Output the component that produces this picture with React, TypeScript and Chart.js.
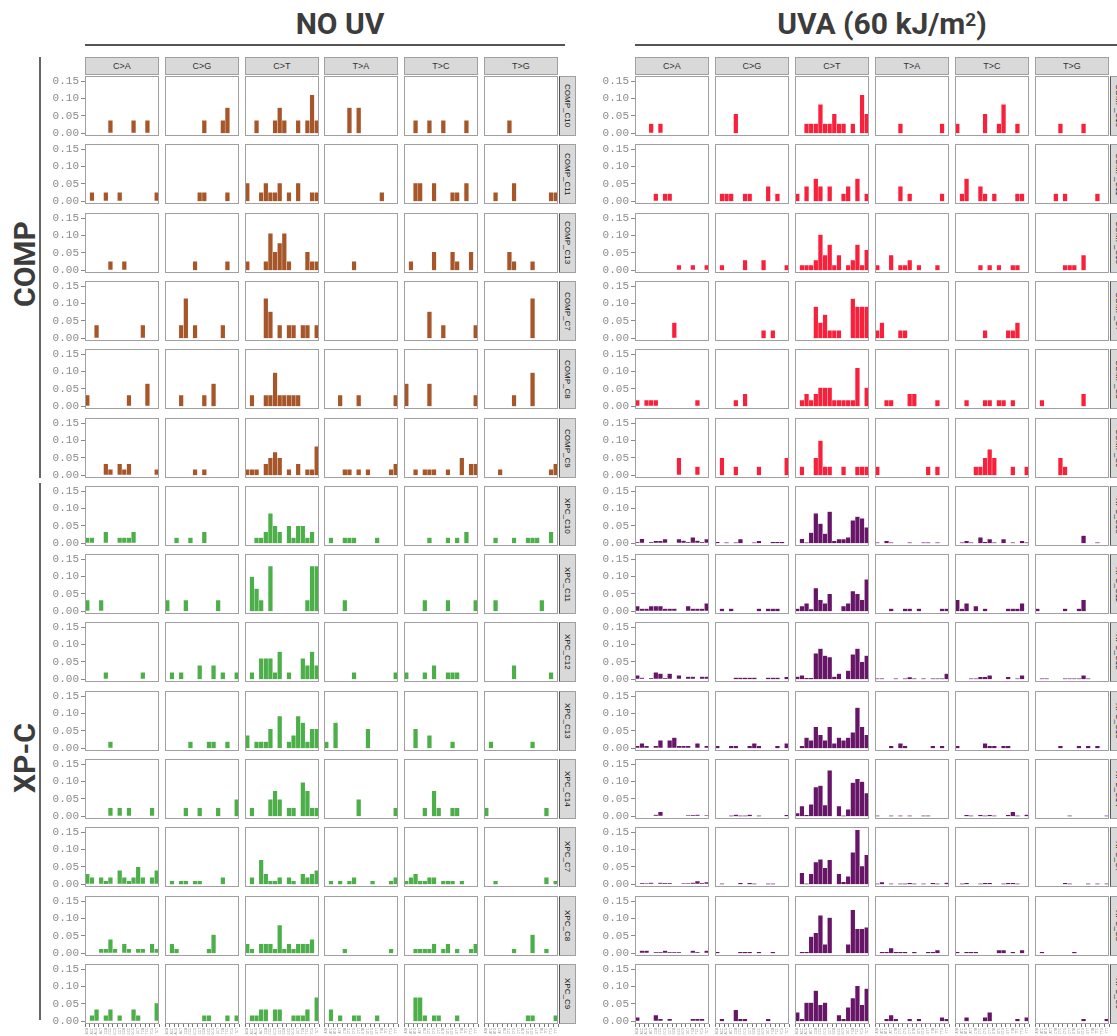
import React, { useEffect, useRef } from "react";
import { Chart, registerables } from "chart.js";

Chart.register(...registerables);

// ---- labels ----
const substitutions = ["C>A", "C>G", "C>T", "T>A", "T>C", "T>G"];
const cContexts = ["ACA", "ACC", "ACG", "ACT", "CCA", "CCC", "CCG", "CCT", "GCA", "GCC", "GCG", "GCT", "TCA", "TCC", "TCG", "TCT"];
const tContexts = ["ATA", "ATC", "ATG", "ATT", "CTA", "CTC", "CTG", "CTT", "GTA", "GTC", "GTG", "GTT", "TTA", "TTC", "TTG", "TTT"];
const yTicks = [0, 0.05, 0.1, 0.15];
const sampleNames = ["COMP_C10", "COMP_C11", "COMP_C13", "COMP_C7", "COMP_C8", "COMP_C9", "XPC_C10", "XPC_C11", "XPC_C12", "XPC_C13", "XPC_C14", "XPC_C7", "XPC_C8", "XPC_C9"];

// ---- NO UV: mutation fractions per substitution (16 trinucleotide contexts each) ----
const noUV_COMP_C10 = [
  [0, 0, 0, 0, 0, .037, 0, 0, 0, 0, .037, 0, 0, .037, 0, 0],
  [0, 0, 0, 0, 0, 0, 0, 0, .037, 0, 0, 0, .037, .074, 0, 0],
  [0, 0, .037, 0, 0, 0, .037, .074, .037, 0, 0, .037, 0, .037, .111, .037],
  [0, 0, 0, 0, 0, .074, 0, .074, 0, 0, 0, 0, 0, 0, 0, 0],
  [0, 0, .037, 0, 0, .037, 0, 0, .037, 0, 0, 0, 0, .037, 0, 0],
  [0, 0, 0, 0, 0, .037, 0, 0, 0, 0, 0, 0, 0, 0, 0, 0],
];
const noUV_COMP_C11 = [
  [0, .026, 0, 0, .026, 0, 0, .026, 0, 0, 0, 0, 0, 0, 0, .026],
  [0, 0, 0, 0, 0, 0, 0, .026, .026, 0, 0, 0, 0, .026, 0, 0],
  [.052, 0, 0, .026, .052, .026, .026, .052, 0, .026, 0, .052, 0, 0, .026, .026],
  [0, 0, 0, 0, 0, 0, 0, 0, 0, 0, 0, 0, .026, 0, 0, 0],
  [0, 0, .052, .052, 0, 0, .052, 0, 0, 0, .026, .026, 0, .052, 0, 0],
  [0, 0, .026, 0, 0, 0, .052, 0, 0, 0, 0, 0, 0, 0, .026, .026],
];
const noUV_COMP_C13 = [
  [0, 0, 0, 0, 0, .026, 0, 0, .026, 0, 0, 0, 0, 0, 0, 0],
  [0, 0, 0, 0, 0, 0, .026, 0, 0, 0, 0, 0, 0, .026, 0, 0],
  [.026, 0, 0, 0, .026, .106, .053, .078, .106, .026, 0, 0, 0, .053, .026, .026],
  [0, 0, 0, 0, 0, 0, .026, 0, 0, 0, 0, 0, 0, 0, 0, 0],
  [0, .026, 0, 0, 0, 0, .053, 0, 0, 0, .053, .026, 0, 0, .053, 0],
  [0, 0, 0, 0, 0, .053, .026, 0, 0, 0, .026, 0, 0, 0, 0, 0],
];
const noUV_COMP_C7 = [
  [0, 0, .038, 0, 0, 0, 0, 0, 0, 0, 0, 0, .038, 0, 0, 0],
  [0, 0, 0, .038, .115, 0, .038, 0, 0, 0, 0, 0, .038, 0, 0, 0],
  [0, 0, 0, 0, .115, .077, 0, .038, 0, .038, .038, 0, .038, .038, 0, .038],
  [0, 0, 0, 0, 0, 0, 0, 0, 0, 0, 0, 0, 0, 0, 0, 0],
  [0, 0, 0, 0, 0, .077, 0, 0, .038, 0, 0, 0, 0, 0, 0, .038],
  [0, 0, 0, 0, 0, 0, 0, 0, 0, 0, .115, 0, 0, 0, 0, 0],
];
const noUV_COMP_C8 = [
  [.032, 0, 0, 0, 0, 0, 0, 0, 0, .032, 0, 0, 0, .065, 0, 0],
  [0, 0, 0, .032, 0, 0, 0, 0, .032, 0, .065, 0, 0, 0, 0, 0],
  [0, .032, 0, 0, .032, .032, .097, .032, .032, .032, .032, .032, 0, 0, 0, 0],
  [0, 0, 0, .032, 0, 0, 0, .032, 0, 0, 0, 0, 0, 0, 0, .032],
  [.065, 0, 0, 0, 0, .065, 0, 0, 0, 0, 0, 0, 0, 0, 0, .032],
  [0, 0, 0, 0, 0, 0, .032, 0, 0, 0, .097, 0, 0, 0, 0, 0],
];
const noUV_COMP_C9 = [
  [0, 0, 0, 0, .033, .017, 0, .033, .017, .033, 0, 0, 0, 0, 0, .017],
  [0, 0, 0, 0, 0, 0, .017, 0, .017, 0, 0, 0, 0, 0, 0, 0],
  [.017, .017, .017, 0, .033, .05, .067, .05, 0, .017, 0, .033, 0, .017, .017, .083],
  [0, 0, 0, 0, .017, .017, 0, .017, 0, .017, 0, 0, 0, 0, .017, .033],
  [0, 0, .017, 0, .017, .017, .017, 0, 0, .017, 0, 0, .05, 0, .033, .033],
  [0, 0, 0, .017, 0, 0, 0, 0, 0, 0, 0, 0, 0, 0, .017, .033],
];
const noUV_XPC_C10 = [
  [.016, .016, 0, 0, .033, 0, 0, .016, .016, .016, .033, 0, 0, 0, 0, 0],
  [0, 0, .016, 0, 0, .016, 0, 0, .033, 0, 0, 0, 0, 0, 0, 0],
  [0, 0, .016, .016, .033, .086, .05, .033, 0, .05, .016, .05, .05, .016, .033, 0],
  [0, .016, 0, 0, .016, .016, .016, 0, 0, 0, 0, .016, 0, 0, 0, 0],
  [0, 0, 0, 0, 0, .016, 0, 0, 0, .016, 0, .016, 0, .033, 0, 0],
  [0, 0, .016, 0, 0, 0, .016, 0, 0, .016, .016, .016, 0, 0, .033, 0],
];
const noUV_XPC_C11 = [
  [.032, 0, 0, .032, 0, 0, 0, 0, 0, 0, 0, 0, 0, 0, 0, 0],
  [.032, 0, 0, 0, .032, 0, 0, 0, 0, 0, 0, .032, 0, 0, 0, 0],
  [0, .1, .065, .032, 0, .13, 0, 0, 0, 0, 0, 0, 0, .032, .13, .13],
  [0, 0, 0, 0, .032, 0, 0, 0, 0, 0, 0, 0, 0, 0, 0, 0],
  [0, 0, 0, 0, .032, 0, 0, 0, 0, .032, 0, 0, 0, 0, 0, .032],
  [0, 0, .032, 0, 0, 0, 0, 0, 0, 0, 0, 0, .032, 0, 0, 0],
];
const noUV_XPC_C12 = [
  [0, 0, 0, 0, .02, 0, 0, 0, 0, 0, 0, 0, .02, 0, 0, 0],
  [0, .02, 0, .02, 0, 0, 0, .04, 0, 0, .04, 0, .02, 0, 0, .02],
  [0, .02, 0, .06, .06, .06, .02, .08, 0, .02, 0, 0, .06, .04, .08, .04],
  [0, 0, 0, 0, 0, 0, .02, 0, 0, 0, 0, 0, 0, 0, 0, .02],
  [.02, 0, 0, 0, .02, 0, .04, 0, 0, .02, .02, .02, 0, 0, 0, 0],
  [0, 0, 0, 0, 0, 0, .04, 0, 0, 0, 0, 0, 0, 0, .02, 0],
];
const noUV_XPC_C13 = [
  [0, 0, 0, 0, 0, .019, 0, 0, 0, 0, 0, 0, 0, 0, 0, 0],
  [0, 0, 0, 0, 0, .019, 0, 0, 0, .019, .019, 0, 0, .019, 0, 0],
  [.037, 0, .019, .019, .019, .056, 0, .093, 0, .019, .037, .093, .074, .019, .056, .056],
  [.019, 0, .074, 0, 0, 0, 0, 0, 0, .056, 0, 0, 0, 0, 0, 0],
  [0, 0, .056, 0, 0, .037, 0, 0, 0, 0, .019, 0, 0, 0, 0, 0],
  [0, .019, 0, 0, 0, 0, 0, 0, 0, 0, .019, 0, 0, 0, 0, 0],
];
const noUV_XPC_C14 = [
  [0, 0, 0, 0, 0, .024, 0, .024, 0, .024, 0, 0, 0, 0, .024, 0],
  [0, 0, 0, 0, .024, 0, 0, .024, 0, 0, 0, .024, 0, 0, 0, .049],
  [0, .024, 0, 0, 0, .049, .073, .049, 0, .024, .024, 0, .098, .073, .024, .024],
  [0, 0, 0, 0, 0, 0, 0, .049, 0, 0, 0, 0, 0, 0, 0, .024],
  [0, 0, 0, 0, .024, 0, .073, .024, 0, 0, .024, .024, 0, 0, 0, 0],
  [.024, 0, 0, 0, 0, 0, 0, 0, 0, 0, 0, 0, 0, .024, 0, 0],
];
const noUV_XPC_C7 = [
  [.03, .02, 0, .02, .01, .02, 0, .04, .02, .01, .02, .05, .02, 0, .02, .04],
  [0, .01, 0, .01, .01, 0, .01, .01, 0, 0, 0, 0, .02, 0, 0, 0],
  [0, .02, 0, .07, .03, .01, .01, .02, 0, .02, .01, 0, .03, .02, .03, .04],
  [0, .01, 0, .01, 0, .01, .02, 0, 0, 0, .01, 0, 0, 0, .01, .02],
  [.01, .02, .03, .01, .01, .02, .02, 0, .01, .01, .01, 0, .01, 0, 0, 0],
  [0, 0, .01, 0, 0, 0, 0, 0, 0, 0, 0, 0, 0, .02, 0, .01],
];
const noUV_XPC_C8 = [
  [0, 0, 0, .013, .013, .04, .013, 0, .027, .013, 0, .013, .013, 0, .027, .013],
  [0, .027, .013, 0, 0, 0, 0, 0, 0, .013, .054, 0, 0, 0, 0, 0],
  [.027, .013, 0, .027, .027, .027, .013, .081, .013, .027, .013, .027, .027, .027, .04, 0],
  [0, 0, 0, 0, .013, 0, 0, 0, 0, 0, 0, 0, 0, 0, .013, 0],
  [0, 0, .013, .013, .013, .013, .027, 0, .013, .027, 0, .013, 0, 0, .013, .027],
  [0, 0, 0, 0, 0, 0, .013, 0, 0, 0, .054, 0, 0, .013, 0, 0],
];
const noUV_XPC_C9 = [
  [0, .017, .034, 0, .017, .034, 0, .017, 0, 0, .034, .017, 0, 0, 0, .052],
  [0, 0, 0, 0, 0, 0, 0, 0, .017, .017, 0, 0, 0, .017, 0, .017],
  [0, .017, .017, .034, .034, 0, .034, .034, 0, 0, .017, .017, .017, .034, 0, .069],
  [0, .034, 0, .017, 0, 0, .017, .017, 0, 0, 0, .017, 0, 0, 0, 0],
  [0, 0, .069, .069, .017, 0, .017, .017, 0, 0, 0, .017, 0, 0, 0, 0],
  [0, 0, 0, 0, 0, 0, 0, 0, 0, .017, .017, 0, 0, 0, 0, .017],
];

// ---- UVA (60 kJ/m2) ----
const uva_COMP_C10 = [
  [0, 0, 0, .028, 0, .028, 0, 0, 0, 0, 0, 0, 0, 0, 0, 0],
  [0, 0, 0, 0, .056, 0, 0, 0, 0, 0, 0, 0, 0, 0, 0, 0],
  [0, 0, .028, .028, .028, .083, .028, .028, .056, .028, .028, 0, .028, 0, .111, .056],
  [0, 0, 0, 0, 0, .028, 0, 0, 0, 0, 0, 0, 0, 0, .028, 0],
  [.028, 0, 0, 0, 0, 0, .056, 0, 0, .028, .083, 0, 0, .028, 0, 0],
  [0, 0, 0, 0, 0, .028, 0, 0, 0, 0, .028, 0, 0, 0, 0, 0],
];
const uva_COMP_C11 = [
  [0, 0, 0, 0, .022, 0, .022, .022, 0, 0, 0, 0, 0, 0, 0, 0],
  [0, .022, .022, .022, 0, 0, .022, .022, 0, 0, 0, .043, 0, .022, 0, 0],
  [.022, 0, .043, 0, .065, .043, 0, .043, 0, 0, .022, .043, 0, .065, 0, .022],
  [0, 0, 0, 0, 0, .043, 0, .022, 0, 0, 0, 0, 0, 0, .022, 0],
  [0, .022, .065, 0, 0, .043, .022, 0, .022, 0, 0, 0, 0, .022, .022, 0],
  [0, 0, 0, 0, .022, 0, .022, 0, 0, 0, 0, 0, 0, .022, 0, 0],
];
const uva_COMP_C13 = [
  [0, 0, 0, 0, 0, 0, 0, 0, 0, .015, 0, 0, .015, 0, 0, .015],
  [0, .015, 0, 0, 0, 0, .029, 0, 0, 0, .029, 0, 0, 0, 0, .015],
  [0, .015, .015, .015, .029, .103, .044, .074, .015, .044, 0, .015, .029, .074, .015, .059],
  [.015, 0, 0, .044, 0, .015, .015, .029, 0, .015, 0, 0, 0, .015, 0, 0],
  [0, 0, 0, 0, 0, .015, 0, .015, 0, .015, 0, 0, .015, .015, 0, 0],
  [0, 0, 0, 0, 0, 0, .015, .015, .015, 0, .044, 0, 0, 0, 0, 0],
];
const uva_COMP_C7 = [
  [0, 0, 0, 0, 0, 0, 0, 0, .045, 0, 0, 0, 0, 0, 0, 0],
  [0, 0, 0, 0, 0, 0, 0, 0, 0, 0, .023, 0, .023, 0, 0, 0],
  [0, 0, 0, 0, .091, .045, .068, .023, .023, .023, 0, 0, .114, .091, .091, .091],
  [.023, .045, 0, 0, 0, .023, .023, 0, 0, 0, 0, 0, 0, 0, 0, 0],
  [0, 0, 0, 0, 0, 0, .023, 0, 0, 0, 0, .023, .023, .045, 0, 0],
  [0, 0, 0, 0, 0, 0, 0, 0, 0, 0, 0, 0, 0, 0, 0, 0],
];
const uva_COMP_C8 = [
  [.018, 0, .018, .018, .018, 0, 0, 0, 0, 0, 0, 0, 0, .018, 0, 0],
  [0, 0, 0, 0, .018, 0, .036, 0, 0, 0, 0, 0, 0, 0, 0, 0],
  [0, .018, .036, .018, .036, .054, .054, .054, .018, .018, .018, .018, .018, .111, 0, .054],
  [0, 0, .018, .018, 0, 0, 0, .036, .036, 0, 0, 0, 0, .018, 0, 0],
  [0, 0, .018, 0, 0, 0, .018, .018, 0, .018, .018, 0, .018, 0, 0, 0],
  [0, .018, 0, 0, 0, 0, 0, 0, 0, 0, .036, 0, 0, 0, 0, 0],
];
const uva_COMP_C9 = [
  [0, 0, 0, 0, 0, 0, 0, 0, 0, .05, 0, 0, 0, .025, 0, 0],
  [0, .05, 0, 0, .025, 0, 0, 0, 0, .025, 0, 0, 0, 0, 0, .05],
  [0, .025, 0, 0, .05, .1, .025, .025, 0, 0, .025, 0, 0, .025, .025, .025],
  [.025, 0, 0, 0, 0, 0, 0, 0, 0, 0, 0, .025, 0, .025, 0, 0],
  [0, 0, 0, 0, .025, .025, .05, .075, .05, 0, 0, 0, .025, 0, 0, .025],
  [0, 0, 0, 0, 0, .05, .025, 0, 0, 0, 0, 0, 0, 0, 0, 0],
];
const uva_XPC_C10 = [
  [.004, .013, 0, .003, .007, .007, .012, 0, 0, .012, .008, .003, .017, .008, .003, .012],
  [.004, 0, .003, 0, .003, .012, 0, 0, .003, .007, 0, 0, .004, .004, .004, 0],
  [0, .013, .003, .031, .086, .057, .028, .091, .007, .012, .012, .017, .066, .077, .072, .046],
  [.003, 0, .007, .003, 0, 0, 0, .003, 0, 0, .003, .003, 0, .003, 0, 0],
  [0, .003, .007, .003, 0, .017, .004, .012, .003, 0, .012, 0, .003, 0, .007, .003],
  [0, 0, 0, 0, 0, 0, 0, 0, 0, 0, .022, 0, 0, .003, 0, 0],
];
const uva_XPC_C11 = [
  [.015, .008, .008, .015, .015, .015, .008, .008, .008, 0, 0, .015, .008, .008, .008, .023],
  [0, .008, 0, .008, 0, 0, 0, 0, 0, .008, 0, .008, .008, .008, 0, 0],
  [.008, .015, .023, .006, .067, .033, .023, .05, 0, 0, .015, .023, .058, .05, .033, .092],
  [0, 0, 0, .008, 0, 0, .008, .008, 0, .008, 0, 0, 0, 0, .008, .008],
  [.033, .008, .023, 0, .015, 0, .008, 0, 0, 0, 0, .008, .008, .008, .023, 0],
  [.008, 0, 0, 0, 0, 0, .008, 0, 0, .008, .033, 0, 0, 0, 0, 0],
];
const uva_XPC_C12 = [
  [.011, .005, 0, .003, .02, .016, .004, .016, 0, .011, 0, .008, .008, 0, .008, .008],
  [0, 0, 0, 0, .005, .005, .005, .005, .005, 0, 0, .005, .005, .005, 0, .007],
  [.008, .011, .004, .004, .075, .088, .068, .064, .008, .016, 0, .025, .072, .088, .05, .068],
  [.003, .003, 0, 0, .003, 0, .003, .006, .003, 0, .003, 0, .003, .003, .003, .016],
  [0, 0, 0, .003, .003, .007, .007, .011, 0, 0, 0, .007, 0, .003, .011, 0],
  [0, .003, .003, 0, 0, 0, .003, .003, .003, .003, .011, .003, 0, 0, 0, 0],
];
const uva_XPC_C13 = [
  [.007, .014, .007, 0, .007, .023, 0, .023, .031, .007, .007, .007, 0, .014, 0, .007],
  [.007, 0, 0, .007, .007, 0, 0, .007, .014, .007, 0, 0, 0, .007, 0, .014],
  [0, .007, .031, .023, .062, .039, .023, .062, .014, .031, .023, .031, .046, .117, .062, .039],
  [0, 0, 0, .007, 0, .014, .007, 0, 0, 0, 0, 0, .007, 0, .007, 0],
  [.007, 0, 0, 0, 0, 0, .014, .007, .007, 0, .007, .007, 0, 0, 0, 0],
  [0, 0, 0, 0, 0, .007, 0, 0, 0, .007, 0, .007, 0, .007, 0, 0],
];
const uva_XPC_C14 = [
  [0, 0, 0, 0, .005, .013, 0, 0, 0, 0, 0, .002, .004, .005, 0, .002],
  [0, 0, 0, .002, .005, .002, .002, .005, 0, .002, 0, 0, 0, 0, 0, .004],
  [.009, .029, .004, .034, .084, .088, .032, .132, 0, .029, .002, .02, .097, .108, .1, .067],
  [.002, 0, 0, .002, 0, .002, 0, .002, 0, 0, .002, .002, 0, 0, 0, 0],
  [0, 0, .004, .002, 0, .004, .002, .004, .002, 0, 0, .004, .013, .002, 0, .005],
  [0, 0, 0, 0, 0, 0, 0, .002, 0, 0, 0, 0, 0, 0, 0, .002],
];
const uva_XPC_C7 = [
  [0, .004, .002, .005, 0, .005, .004, .004, 0, 0, .002, .002, .005, .009, .004, .006],
  [0, .002, 0, 0, 0, .004, 0, .004, .002, 0, 0, .002, .002, 0, 0, 0],
  [0, .033, .002, .03, .064, .072, .047, .07, 0, .03, .007, .023, .092, .157, .052, .085],
  [.002, .006, 0, .002, 0, .002, .002, .004, .002, 0, .002, 0, .004, .002, 0, .005],
  [0, .002, .004, 0, 0, .002, .004, .004, 0, 0, .002, .004, .004, .002, 0, 0],
  [0, 0, 0, 0, 0, 0, .004, .002, 0, 0, 0, .002, 0, .002, 0, .002],
];
const uva_XPC_C8 = [
  [0, .008, .008, 0, .004, .004, .008, .004, .004, .004, 0, 0, .008, .004, 0, .008],
  [.004, 0, 0, 0, 0, .004, .004, .004, 0, .004, 0, 0, .004, 0, 0, 0],
  [0, .004, .004, .048, .059, .109, .026, .103, 0, 0, 0, .026, .125, .07, .07, .075],
  [0, .004, .004, .015, .004, .004, .004, 0, .004, 0, 0, .004, .004, .009, 0, 0],
  [.004, 0, .004, .004, .004, 0, 0, 0, 0, .009, .009, 0, .004, 0, .009, 0],
  [0, .004, 0, 0, 0, 0, 0, 0, .004, 0, 0, 0, 0, 0, 0, 0],
];
const uva_XPC_C9 = [
  [.011, 0, 0, 0, .018, .007, 0, .007, 0, 0, 0, 0, .007, .007, .007, 0],
  [0, .007, 0, 0, .033, .007, .007, 0, 0, 0, 0, .007, 0, 0, 0, 0],
  [.026, .007, .054, .054, .088, .047, .054, 0, 0, .018, .007, .04, .067, .102, .047, .094],
  [0, 0, .007, .018, .007, 0, 0, .007, 0, .007, 0, 0, 0, 0, .011, .007],
  [0, 0, .011, 0, 0, 0, .011, .026, 0, 0, 0, 0, 0, .007, 0, .011],
  [0, 0, 0, 0, 0, 0, 0, 0, 0, 0, .007, 0, 0, 0, 0, .007],
];

const noUVRows = [noUV_COMP_C10, noUV_COMP_C11, noUV_COMP_C13, noUV_COMP_C7, noUV_COMP_C8, noUV_COMP_C9, noUV_XPC_C10, noUV_XPC_C11, noUV_XPC_C12, noUV_XPC_C13, noUV_XPC_C14, noUV_XPC_C7, noUV_XPC_C8, noUV_XPC_C9];
const uvaRows = [uva_COMP_C10, uva_COMP_C11, uva_COMP_C13, uva_COMP_C7, uva_COMP_C8, uva_COMP_C9, uva_XPC_C10, uva_XPC_C11, uva_XPC_C12, uva_XPC_C13, uva_XPC_C14, uva_XPC_C7, uva_XPC_C8, uva_XPC_C9];

// ---- layout ----
const FACET_W = 74;
const FACET_H = 60;
const Y_AXIS_W = 45;
const X_AXIS_H = 13;
const PAD = 10; // canvas margin around each panel so axis label padding never eats into the plot area
const ROW_TOP0 = 76;
const ROW_STEP = 68.3;
const Y_MIN = -0.0079;
const Y_MAX = 0.1649;

const COLORS = {
  noUVComp: "#A65628",
  noUVXpc: "#4DAF4A",
  uvaComp: "#F8213C",
  uvaXpc: "#661567",
};

const panelFrame = {
  id: "panelFrame",
  afterDatasetsDraw(chart: any) {
    const { ctx, chartArea: a } = chart;
    ctx.save();
    ctx.strokeStyle = "#a0a0a0";
    ctx.lineWidth = 1;
    ctx.strokeRect(Math.round(a.left) + 0.5, Math.round(a.top) + 0.5, Math.round(a.right - a.left) - 1, Math.round(a.bottom - a.top) - 1);
    ctx.restore();
  },
};

type FacetProps = {
  values: number[];
  color: string;
  left: number;
  top: number;
  showY: boolean;
  showX: boolean;
  labels: string[];
};

function Facet({ values, color, left, top, showY, showX, labels }: FacetProps) {
  const ref = useRef<HTMLCanvasElement>(null);
  const padL = showY ? Y_AXIS_W : PAD;
  const padB = showX ? X_AXIS_H : PAD;
  const w = padL + FACET_W + PAD;
  const h = PAD + FACET_H + padB;

  useEffect(() => {
    if (!ref.current) return;
    const xScale: any = {
      display: showX,
      offset: true,
      grid: { drawOnChartArea: false, drawTicks: true, tickLength: 3, color: "#555", lineWidth: 0.8 },
      border: { display: false },
      ticks: {
        autoSkip: false,
        maxRotation: 90,
        minRotation: 90,
        padding: 1,
        color: "#9a9a9a",
        font: { size: 3, family: "Liberation Sans", lineHeight: 0.8 },
      },
    };
    if (showX) xScale.afterFit = (s: any) => { s.height = X_AXIS_H; };
    const yScale: any = {
      display: showY,
      min: Y_MIN,
      max: Y_MAX,
      afterBuildTicks: (s: any) => {
        s.ticks = yTicks.map((v) => ({ value: v }));
      },
      grid: { drawOnChartArea: false, drawTicks: true, tickLength: 4, color: "#8a8a8a", lineWidth: 1 },
      border: { display: false },
      ticks: {
        padding: 2,
        color: "#8c8c8c",
        font: { size: 11, family: "Liberation Mono" },
        callback: (v: any) => Number(v).toFixed(2),
      },
    };
    if (showY) yScale.afterFit = (s: any) => { s.width = Y_AXIS_W; };

    const chart = new Chart(ref.current, {
      type: "bar",
      data: {
        labels,
        datasets: [
          {
            data: values,
            backgroundColor: color,
            borderColor: "rgba(255,255,255,0.4)",
            borderWidth: 0.5,
            borderSkipped: "start",
            barPercentage: 1,
            categoryPercentage: 1,
          },
        ],
      },
      options: {
        animation: false,
        responsive: false,
        devicePixelRatio: 1,
        events: [],
        layout: { padding: { top: PAD, right: PAD, bottom: showX ? 0 : PAD, left: showY ? 0 : PAD } },
        plugins: { legend: { display: false }, tooltip: { enabled: false } },
        scales: { x: xScale, y: yScale },
      },
      plugins: [panelFrame],
    });
    return () => chart.destroy();
  }, [values, color, showY, showX, labels]);

  return (
    <canvas
      ref={ref}
      width={w}
      height={h}
      style={{ position: "absolute", left: left - padL, top: top - PAD, width: w, height: h }}
    />
  );
}

type PanelProps = {
  rows: number[][][];
  facetLefts: number[];
  compColor: string;
  xpcColor: string;
};

function Panel({ rows, facetLefts, compColor, xpcColor }: PanelProps) {
  const lastRight = facetLefts[facetLefts.length - 1] + FACET_W;
  const items: React.ReactNode[] = [];

  substitutions.forEach((sub, c) => {
    items.push(
      <div
        key={"strip-" + sub}
        style={{
          position: "absolute",
          left: facetLefts[c],
          top: 57,
          width: FACET_W,
          height: 18,
          boxSizing: "border-box",
          background: "#d9d9d9",
          border: "1px solid #a0a0a0",
          font: "9px 'Liberation Sans', Arial, sans-serif",
          color: "#333",
          lineHeight: "16px",
          textAlign: "center",
        }}
      >
        {sub}
      </div>
    );
  });

  rows.forEach((row, r) => {
    const top = Math.round(ROW_TOP0 + r * ROW_STEP);
    items.push(
      <div
        key={"rstrip-" + r}
        style={{
          position: "absolute",
          left: lastRight + 1,
          top,
          width: 17,
          height: FACET_H,
          boxSizing: "border-box",
          background: "#d9d9d9",
          border: "1px solid #a0a0a0",
          borderLeft: "1px solid #555",
          display: "flex",
          alignItems: "center",
          justifyContent: "center",
        }}
      >
        <span
          style={{
            writingMode: "vertical-rl",
            font: "8px 'Liberation Sans', Arial, sans-serif",
            color: "#111",
            whiteSpace: "nowrap",
          }}
        >
          {sampleNames[r]}
        </span>
      </div>
    );
  });

  rows.forEach((row, r) => {
    const top = Math.round(ROW_TOP0 + r * ROW_STEP);
    const color = r < 6 ? compColor : xpcColor;
    row.forEach((vals, c) => {
      items.push(
        <Facet
          key={`f-${r}-${c}`}
          values={vals}
          color={color}
          left={facetLefts[c]}
          top={top}
          showY={c === 0}
          showX={r === rows.length - 1}
          labels={substitutions[c][0] === "C" ? cContexts : tContexts}
        />
      );
    });
  });

  return <>{items}</>;
}

const noUVLefts = [85, 165, 245, 324, 404, 484];
const uvaLefts = [635, 715, 795, 875, 955, 1035];

const titleStyle: React.CSSProperties = {
  position: "absolute",
  font: "bold 30px Roboto, 'Liberation Sans', sans-serif",
  color: "#3c3c3c",
  whiteSpace: "nowrap",
  transform: "translateX(-50%)",
};

const groupStyle: React.CSSProperties = {
  position: "absolute",
  font: "bold 30px Roboto, 'Liberation Sans', sans-serif",
  color: "#3c3c3c",
  whiteSpace: "nowrap",
  transform: "translate(-50%, -50%) rotate(-90deg)",
};

export default function App() {
  return (
    <div
      style={{
        position: "absolute",
        left: 0,
        top: 0,
        width: 1117,
        height: 1036,
        overflow: "hidden",
        background: "#ffffff",
      }}
    >
      <div style={{ ...titleStyle, left: 340, top: 6 }}>NO UV</div>
      <div style={{ position: "absolute", left: 85, top: 44, width: 480, height: 2, background: "#555" }} />
      <div style={{ ...titleStyle, left: 882, top: 6 }}>
        UVA (60 kJ/m<sup style={{ fontSize: 19, verticalAlign: "top", lineHeight: "28px" }}>2</sup>)
      </div>
      <div style={{ position: "absolute", left: 635, top: 44, width: 482, height: 2, background: "#555" }} />

      <div style={{ position: "absolute", left: 39, top: 57, width: 2, height: 421, background: "#666" }} />
      <div style={{ position: "absolute", left: 39, top: 483, width: 2, height: 537, background: "#666" }} />
      <div style={{ ...groupStyle, left: 24, top: 264 }}>COMP</div>
      <div style={{ ...groupStyle, left: 24, top: 758 }}>XP-C</div>

      <Panel rows={noUVRows} facetLefts={noUVLefts} compColor={COLORS.noUVComp} xpcColor={COLORS.noUVXpc} />
      <Panel rows={uvaRows} facetLefts={uvaLefts} compColor={COLORS.uvaComp} xpcColor={COLORS.uvaXpc} />
    </div>
  );
}
